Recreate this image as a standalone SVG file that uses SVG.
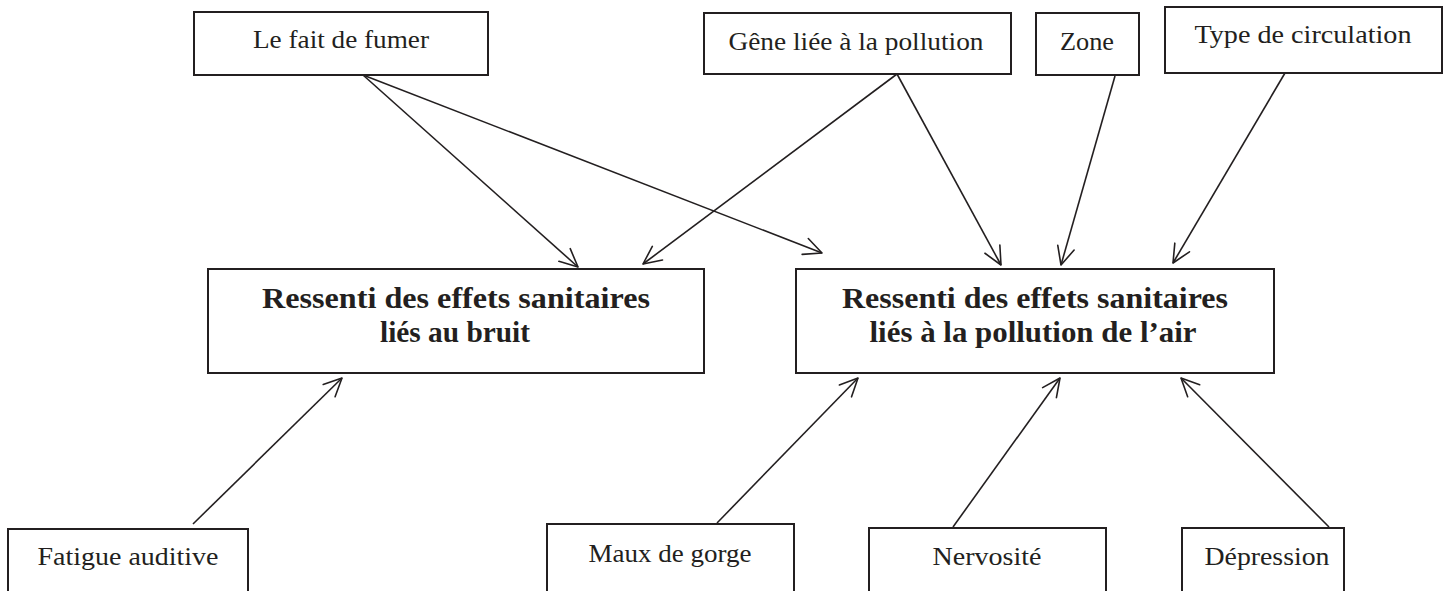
<svg xmlns="http://www.w3.org/2000/svg" width="1450" height="591" viewBox="0 0 1450 591">
  <style>
    .box { fill: #ffffff; stroke: #231f20; stroke-width: 2; }
    .lbl { font-family: "Liberation Serif", "Times New Roman", serif; font-size: 26px; fill: #231f20; text-anchor: middle; }
    .ttl { font-family: "Liberation Serif", "Times New Roman", serif; font-size: 29px; font-weight: bold; fill: #231f20; text-anchor: middle; }
    .edge { fill: none; stroke: #231f20; stroke-width: 1.6; marker-end: url(#arr); }
  </style>
  <defs>
    <marker id="arr" markerUnits="userSpaceOnUse" orient="auto" overflow="visible" markerWidth="1" markerHeight="1" refX="0" refY="0">
      <path d="M-18,-8.5 L0,0 L-18,8.5" fill="none" stroke="#231f20" stroke-width="1.6" stroke-linejoin="round" stroke-linecap="round"/>
    </marker>
  </defs>
  <rect width="1450" height="591" fill="#ffffff"/>

  <g id="connectors">
    <line class="edge" x1="363" y1="75" x2="578" y2="267"/>
    <line class="edge" x1="363" y1="75" x2="822" y2="253"/>
    <line class="edge" x1="897" y1="74" x2="643" y2="264"/>
    <line class="edge" x1="897" y1="74" x2="1001" y2="265"/>
    <line class="edge" x1="1115" y1="76" x2="1061" y2="265"/>
    <line class="edge" x1="1285" y1="73" x2="1173" y2="263"/>
    <line class="edge" x1="193" y1="524" x2="342" y2="378"/>
    <line class="edge" x1="717" y1="523" x2="858" y2="378"/>
    <line class="edge" x1="953" y1="527" x2="1060" y2="378"/>
    <line class="edge" x1="1329" y1="527" x2="1181" y2="378"/>
  </g>

  <g id="n-fumer">
    <rect class="box" x="194" y="12" width="294" height="63"/>
    <text class="lbl" x="341" y="48" textLength="176" lengthAdjust="spacingAndGlyphs">Le fait de fumer</text>
  </g>
  <g id="n-gene">
    <rect class="box" x="704" y="13" width="307" height="61"/>
    <text class="lbl" x="856" y="50" textLength="255" lengthAdjust="spacingAndGlyphs">Gêne liée à la pollution</text>
  </g>
  <g id="n-zone">
    <rect class="box" x="1036" y="13" width="103" height="62"/>
    <text class="lbl" x="1087" y="50" textLength="54" lengthAdjust="spacingAndGlyphs">Zone</text>
  </g>
  <g id="n-type">
    <rect class="box" x="1165" y="7" width="277" height="66"/>
    <text class="lbl" x="1303" y="43" textLength="217" lengthAdjust="spacingAndGlyphs">Type de circulation</text>
  </g>

  <g id="n-bruit">
    <rect class="box" x="208" y="269" width="496" height="104"/>
    <text class="ttl" x="456" y="308" textLength="388" lengthAdjust="spacingAndGlyphs">Ressenti des effets sanitaires</text>
    <text class="ttl" x="455" y="342" textLength="150" lengthAdjust="spacingAndGlyphs">liés au bruit</text>
  </g>
  <g id="n-air">
    <rect class="box" x="796" y="269" width="478" height="104"/>
    <text class="ttl" x="1035" y="308" textLength="386" lengthAdjust="spacingAndGlyphs">Ressenti des effets sanitaires</text>
    <text class="ttl" x="1033" y="342" textLength="327" lengthAdjust="spacingAndGlyphs">liés à la pollution de l’air</text>
  </g>

  <g id="n-fatigue">
    <rect class="box" x="8" y="529" width="240" height="80"/>
    <text class="lbl" x="128" y="565" textLength="181" lengthAdjust="spacingAndGlyphs">Fatigue auditive</text>
  </g>
  <g id="n-maux">
    <rect class="box" x="547" y="524" width="247" height="85"/>
    <text class="lbl" x="670" y="562" textLength="163" lengthAdjust="spacingAndGlyphs">Maux de gorge</text>
  </g>
  <g id="n-nervosite">
    <rect class="box" x="869" y="528" width="237" height="81"/>
    <text class="lbl" x="987" y="565" textLength="109" lengthAdjust="spacingAndGlyphs">Nervosité</text>
  </g>
  <g id="n-depression">
    <rect class="box" x="1182" y="528" width="162" height="81"/>
    <text class="lbl" x="1267" y="565" textLength="125" lengthAdjust="spacingAndGlyphs">Dépression</text>
  </g>
</svg>
